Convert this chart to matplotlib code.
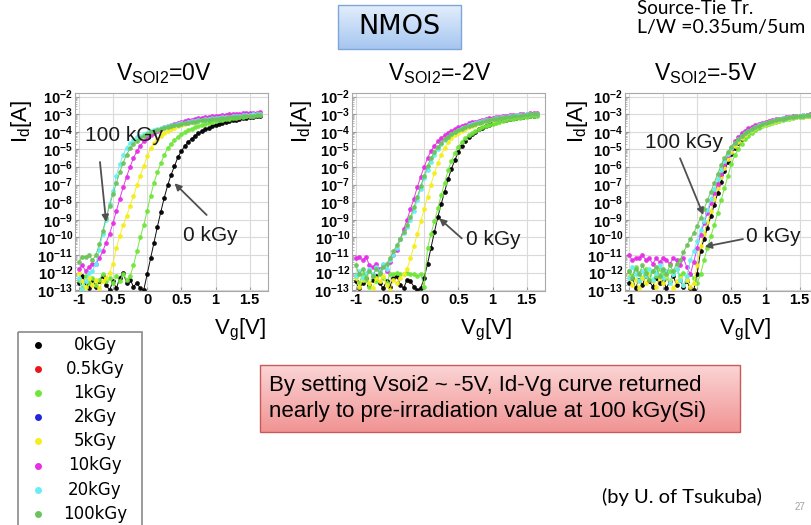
import numpy as np
import matplotlib
matplotlib.use('Agg')
import matplotlib.pyplot as plt
from matplotlib import font_manager as fm
from matplotlib.patches import Rectangle
from matplotlib.ticker import LogLocator, NullFormatter
import matplotlib.colors as mcolors

names = {f.name for f in fm.fontManager.ttflist}
NARROW = 'Liberation Sans Narrow' if 'Liberation Sans Narrow' in names else 'Liberation Sans'

plt.rcParams['axes.unicode_minus'] = False
plt.rcParams['mathtext.fontset'] = 'custom'
plt.rcParams['mathtext.rm'] = NARROW
plt.rcParams['mathtext.bf'] = NARROW + ':bold'
plt.rcParams['mathtext.it'] = NARROW + ':italic'
plt.rcParams['font.family'] = [NARROW, 'DejaVu Sans']

# ---------------- data ----------------
vg = np.round(np.arange(-1.0, 1.651, 0.05), 2)   # gate voltage [V]

dose_labels = ['0kGy', '0.5kGy', '1kGy', '2kGy', '5kGy', '10kGy', '20kGy', '100kGy']
dose_colors = ['#000000', '#e8151b', '#6fe63a', '#2424dc', '#f4ee1c', '#e52ee6', '#66eef2', '#6cc35a']

panel_titles = [r'V$_{\rm SOI2}$=0V', r'V$_{\rm SOI2}$=-2V', r'V$_{\rm SOI2}$=-5V']

# log10(Id [A]) for each dose, V_SOI2 = 0 V
p1_0kGy = [-12.6,-12.2,-12.6,-12.9,-12.4,-12.8,-12.5,-12.2,-12.7,-13.0,
           -12.5,-12.9,-12.3,-12.0,-12.6,-12.4,-12.8,-12.6,-12.9,-13.0,
           -12.1,-11.2,-10.3,-9.4,-8.55,-7.75,-7.05,-6.45,-5.95,-5.45,
           -5.1,-4.82,-4.58,-4.4,-4.24,-4.1,-3.98,-3.87,-3.78,-3.7,
           -3.62,-3.56,-3.5,-3.44,-3.39,-3.35,-3.31,-3.27,-3.24,-3.21,
           -3.18,-3.15,-3.13,-3.1]
p1_1kGy = [-12.4,-12.9,-12.2,-12.6,-12.3,-12.7,-12.4,-12.1,-12.5,-12.3,
           -12.6,-12.2,-12.5,-12.1,-12.4,-12.2,-11.6,-10.8,-10.0,-9.3,
           -8.5,-7.65,-6.9,-6.3,-5.8,-5.3,-4.95,-4.68,-4.48,-4.3,
           -4.15,-4.02,-3.91,-3.82,-3.74,-3.67,-3.6,-3.54,-3.49,-3.44,
           -3.4,-3.36,-3.32,-3.29,-3.26,-3.23,-3.2,-3.18,-3.15,-3.13,
           -3.11,-3.09,-3.07,-3.05]
p1_5kGy = [-12.0,-12.5,-12.8,-12.3,-12.7,-12.4,-12.9,-12.5,-12.3,-12.0,
           -11.5,-10.6,-9.9,-9.3,-8.8,-8.2,-7.65,-7.05,-6.5,-5.95,
           -5.4,-4.95,-4.62,-4.4,-4.22,-4.08,-3.96,-3.86,-3.77,-3.69,
           -3.62,-3.56,-3.5,-3.45,-3.4,-3.36,-3.32,-3.28,-3.25,-3.22,
           -3.19,-3.16,-3.14,-3.12,-3.1,-3.08,-3.06,-3.04,-3.03,-3.01,
           -3.0,-2.99,-2.97,-2.96]
p1_10kGy = [-11.8,-11.6,-11.9,-11.7,-11.5,-11.5,-11.2,-10.8,-10.3,-9.8,
            -9.2,-8.5,-7.8,-7.15,-6.55,-6.0,-5.5,-5.1,-4.8,-4.55,
            -4.36,-4.2,-4.07,-3.95,-3.85,-3.76,-3.68,-3.61,-3.55,-3.49,
            -3.44,-3.39,-3.35,-3.31,-3.27,-3.24,-3.2,-3.17,-3.15,-3.12,
            -3.1,-3.08,-3.06,-3.04,-3.02,-3.0,-2.99,-2.97,-2.96,-2.94,
            -2.93,-2.92,-2.91,-2.9]
p1_20kGy = [-12.3,-13.0,-12.5,-12.0,-11.9,-11.5,-10.7,-9.8,-9.0,-8.1,
            -7.35,-6.5,-5.85,-5.3,-4.9,-4.62,-4.45,-4.32,-4.22,-4.13,
            -4.05,-3.98,-3.91,-3.85,-3.79,-3.74,-3.69,-3.64,-3.6,-3.56,
            -3.52,-3.48,-3.44,-3.41,-3.38,-3.35,-3.32,-3.29,-3.27,-3.24,
            -3.22,-3.2,-3.18,-3.16,-3.14,-3.12,-3.1,-3.08,-3.07,-3.05,
            -3.04,-3.02,-3.01,-3.0]
p1_100kGy = [-11.4,-11.1,-11.1,-11.0,-11.3,-11.0,-10.4,-9.65,-8.9,-8.2,
             -7.55,-6.9,-6.3,-5.75,-5.3,-4.95,-4.7,-4.5,-4.35,-4.23,
             -4.13,-4.04,-3.96,-3.89,-3.83,-3.77,-3.72,-3.67,-3.63,-3.59,
             -3.55,-3.51,-3.48,-3.45,-3.42,-3.39,-3.36,-3.34,-3.31,-3.29,
             -3.27,-3.25,-3.23,-3.21,-3.19,-3.17,-3.15,-3.14,-3.12,-3.11,
             -3.09,-3.08,-3.06,-3.05]

# V_SOI2 = -2 V
p2_0kGy = [-12.5,-12.9,-12.6,-12.3,-12.7,-12.4,-12.2,-12.6,-12.9,-12.5,
           -12.8,-12.3,-12.2,-12.7,-12.9,-12.4,-12.5,-12.8,-13.0,-12.9,
           -12.3,-11.5,-10.6,-9.7,-8.85,-8.1,-7.4,-6.7,-6.1,-5.6,
           -5.15,-4.8,-4.5,-4.3,-4.13,-3.99,-3.87,-3.77,-3.68,-3.6,
           -3.53,-3.47,-3.41,-3.36,-3.32,-3.28,-3.24,-3.21,-3.18,-3.15,
           -3.13,-3.1,-3.08,-3.06]
p2_1kGy = [-12.2,-12.6,-12.1,-12.4,-12.8,-12.2,-12.5,-12.1,-12.3,-12.6,
           -12.1,-12.1,-12.0,-12.1,-12.1,-12.0,-12.1,-12.1,-12.2,-12.1,
           -12.8,-10.6,-9.8,-9.1,-8.35,-7.6,-6.9,-6.2,-5.65,-5.2,
           -4.85,-4.57,-4.36,-4.2,-4.06,-3.94,-3.84,-3.75,-3.67,-3.6,
           -3.54,-3.48,-3.43,-3.38,-3.34,-3.3,-3.27,-3.24,-3.21,-3.18,
           -3.16,-3.13,-3.11,-3.09]
p2_5kGy = [-12.3,-12.8,-12.4,-12.2,-12.6,-12.9,-12.3,-12.5,-12.2,-12.7,
           -13.0,-12.4,-12.6,-12.3,-12.1,-11.8,-11.2,-10.5,-9.8,-9.1,
           -8.4,-7.7,-7.0,-6.35,-5.8,-5.3,-4.9,-4.6,-4.38,-4.2,
           -4.06,-3.94,-3.83,-3.74,-3.66,-3.59,-3.52,-3.46,-3.41,-3.36,
           -3.32,-3.28,-3.24,-3.21,-3.18,-3.15,-3.12,-3.1,-3.08,-3.06,
           -3.04,-3.02,-3.01,-3.0]
p2_10kGy = [-11.2,-11.1,-11.3,-11.1,-11.6,-11.7,-11.5,-11.8,-11.6,-11.9,
            -11.4,-11.0,-10.7,-10.1,-9.55,-9.0,-8.4,-7.8,-7.15,-6.55,
            -6.0,-5.5,-5.1,-4.8,-4.55,-4.36,-4.2,-4.06,-3.94,-3.84,
            -3.75,-3.67,-3.6,-3.53,-3.47,-3.42,-3.37,-3.32,-3.28,-3.24,
            -3.21,-3.18,-3.15,-3.12,-3.1,-3.07,-3.05,-3.03,-3.01,-2.99,
            -2.98,-2.96,-2.95,-2.94]
p2_20kGy = [-12.2,-11.9,-12.3,-12.0,-11.8,-12.1,-11.7,-11.9,-11.5,-11.8,
            -11.3,-11.0,-10.6,-10.1,-9.75,-9.4,-9.0,-8.5,-7.9,-7.25,
            -6.65,-6.15,-5.7,-5.3,-4.97,-4.7,-4.48,-4.3,-4.15,-4.02,
            -3.91,-3.81,-3.72,-3.64,-3.57,-3.51,-3.45,-3.4,-3.35,-3.31,
            -3.27,-3.23,-3.2,-3.17,-3.14,-3.11,-3.09,-3.07,-3.05,-3.03,
            -3.01,-3.0,-2.99,-2.98]
p2_100kGy = [-11.6,-12.1,-11.8,-12.3,-11.9,-12.2,-11.8,-12.0,-11.7,-11.5,
             -11.2,-10.8,-10.45,-10.1,-9.7,-9.3,-8.85,-8.3,-7.7,-7.1,
             -6.5,-5.95,-5.5,-5.15,-4.87,-4.63,-4.44,-4.28,-4.14,-4.02,
             -3.92,-3.83,-3.75,-3.67,-3.6,-3.54,-3.48,-3.43,-3.38,-3.34,
             -3.3,-3.26,-3.23,-3.2,-3.17,-3.14,-3.12,-3.1,-3.08,-3.06,
             -3.04,-3.02,-3.01,-3.0]

# V_SOI2 = -5 V
p3_0kGy = [-12.6,-12.3,-12.9,-12.4,-12.7,-12.2,-12.5,-12.8,-12.3,-12.6,
           -12.4,-12.9,-12.5,-12.2,-12.7,-12.4,-12.8,-12.5,-12.9,-13.0,
           -12.1,-10.75,-10.1,-9.45,-8.8,-8.15,-7.5,-6.85,-6.25,-5.7,
           -5.25,-4.9,-4.62,-4.4,-4.22,-4.06,-3.93,-3.82,-3.72,-3.63,
           -3.55,-3.48,-3.42,-3.37,-3.32,-3.28,-3.24,-3.2,-3.17,-3.14,
           -3.12,-3.1,-3.08,-3.06]
p3_1kGy = [-11.9,-12.2,-11.7,-12.0,-12.3,-11.8,-12.1,-11.9,-12.2,-11.8,
           -12.0,-12.3,-11.9,-12.1,-11.8,-12.2,-12.0,-12.4,-12.1,-12.3,
           -12.6,-12.1,-11.3,-10.6,-9.95,-9.3,-8.6,-7.9,-7.2,-6.5,
           -5.85,-5.35,-4.97,-4.67,-4.43,-4.23,-4.06,-3.92,-3.8,-3.7,
           -3.62,-3.55,-3.49,-3.43,-3.38,-3.33,-3.29,-3.25,-3.22,-3.19,
           -3.16,-3.14,-3.12,-3.1]
p3_5kGy = [-12.2,-12.7,-12.4,-12.9,-12.3,-12.6,-12.1,-12.5,-12.8,-12.3,
           -12.6,-12.2,-12.4,-12.9,-12.5,-12.3,-12.7,-12.4,-12.8,-12.6,
           -11.6,-10.5,-9.8,-9.15,-8.5,-7.85,-7.2,-6.6,-6.05,-5.55,
           -5.15,-4.82,-4.56,-4.35,-4.18,-4.03,-3.9,-3.79,-3.7,-3.62,
           -3.54,-3.48,-3.42,-3.37,-3.32,-3.28,-3.24,-3.21,-3.18,-3.15,
           -3.13,-3.11,-3.09,-3.07]
p3_10kGy = [-11.0,-11.3,-11.2,-11.2,-11.0,-11.3,-11.2,-11.5,-11.2,-11.4,
            -11.2,-11.3,-11.5,-11.2,-11.3,-11.6,-11.2,-11.7,-12.1,-11.4,
            -10.6,-9.85,-9.2,-8.6,-8.05,-7.5,-6.95,-6.4,-5.85,-5.35,
            -4.9,-4.55,-4.3,-4.1,-3.94,-3.81,-3.71,-3.62,-3.55,-3.49,
            -3.43,-3.38,-3.33,-3.29,-3.25,-3.21,-3.18,-3.15,-3.12,-3.1,
            -3.08,-3.06,-3.04,-3.02]
p3_20kGy = [-12.3,-11.7,-12.1,-12.5,-11.9,-12.2,-11.8,-12.4,-12.0,-11.6,
            -12.3,-11.9,-12.6,-12.1,-11.8,-12.4,-12.7,-12.2,-11.3,-10.8,
            -10.2,-9.6,-9.05,-8.45,-7.85,-7.25,-6.7,-6.15,-5.65,-5.25,
            -4.93,-4.66,-4.44,-4.25,-4.09,-3.95,-3.83,-3.73,-3.64,-3.56,
            -3.49,-3.43,-3.37,-3.32,-3.28,-3.24,-3.2,-3.17,-3.14,-3.11,
            -3.09,-3.07,-3.05,-3.03]
p3_100kGy = [-11.9,-12.3,-11.8,-12.1,-11.6,-12.0,-12.4,-11.9,-11.7,-12.2,
             -11.8,-12.1,-11.6,-11.9,-11.5,-11.3,-10.85,-10.45,-10.1,-9.75,
             -9.35,-8.9,-8.4,-7.9,-7.4,-6.9,-6.4,-5.9,-5.5,-5.15,
             -4.87,-4.62,-4.42,-4.24,-4.09,-3.96,-3.85,-3.75,-3.66,-3.58,
             -3.51,-3.45,-3.39,-3.34,-3.3,-3.26,-3.22,-3.19,-3.16,-3.13,
             -3.11,-3.09,-3.07,-3.05]

panels = [
    {'0kGy': p1_0kGy, '1kGy': p1_1kGy, '5kGy': p1_5kGy, '10kGy': p1_10kGy, '20kGy': p1_20kGy, '100kGy': p1_100kGy},
    {'0kGy': p2_0kGy, '1kGy': p2_1kGy, '5kGy': p2_5kGy, '10kGy': p2_10kGy, '20kGy': p2_20kGy, '100kGy': p2_100kGy},
    {'0kGy': p3_0kGy, '1kGy': p3_1kGy, '5kGy': p3_5kGy, '10kGy': p3_10kGy, '20kGy': p3_20kGy, '100kGy': p3_100kGy},
]

# annotations: (text, text_pos, arrow_tail, arrow_head) in (Vg, log10 Id)
annotations = [
    [('100 kGy', (-0.34, -4.19), (-0.69, -5.72), (-0.60, -9.13)),
     ('0 kGy', (0.93, -9.87), (0.87, -8.73), (0.40, -6.93))],
    [('0 kGy', (1.01, -10.1), (0.55, -10.06), (0.22, -8.92))],
    [('100 kGy', (-0.19, -4.61), (-0.25, -5.51), (0.09, -8.73)),
     ('0 kGy', (1.11, -9.97), (0.67, -10.1), (0.11, -10.53))],
]

xticks = [-1, -0.5, 0, 0.5, 1, 1.5]
xticklabels = ['-1', '-0.5', '0', '0.5', '1', '1.5']
ydecades = list(range(2, 14))

# ---------------- figure ----------------
W, H = 811, 525
fig = plt.figure(figsize=(W / 100, H / 100), dpi=100)
fig.patch.set_facecolor('white')

ov = fig.add_axes([0, 0, 1, 1], zorder=0)
ov.set_xlim(0, W)
ov.set_ylim(H, 0)
ov.axis('off')


def grad_box(x0, y0, x1, y1, ctop, cbot, edge):
    c1 = np.array(mcolors.to_rgb(ctop))
    c2 = np.array(mcolors.to_rgb(cbot))
    t = np.linspace(0, 1, 64)[:, None, None]
    img = c1 * (1 - t) + c2 * t
    ov.imshow(img, extent=(x0, x1, y1, y0), aspect='auto', origin='upper',
              interpolation='bilinear', zorder=1)
    ov.add_patch(Rectangle((x0, y0), x1 - x0, y1 - y0, fill=False, ec=edge, lw=1.0, zorder=2))


# NMOS box
grad_box(338, 5, 461, 49, '#e3eefc', '#a6c6f0', '#7fa6d8')
ov.text(399.5, 27, 'NMOS', ha='center', va='center', fontsize=19.5, family='DejaVu Sans', zorder=3)

# top-right text
ov.text(637, 0.5, 'Source-Tie Tr.', ha='left', va='top', fontsize=13.5, family='Lato')
ov.text(637, 28, 'L/W =0.35um/5um', ha='left', va='center', fontsize=14, family='Lato')

# red message box
grad_box(260, 365, 740, 432, '#fbd4d4', '#f19494', '#c95a5a')
ov.text(269, 386, 'By setting Vsoi2 ~ -5V, Id-Vg curve returned', ha='left', va='center',
        fontsize=16, family='Liberation Sans', zorder=3)
ov.text(269, 411, 'nearly to pre-irradiation value at 100 kGy(Si)', ha='left', va='center',
        fontsize=16, family='Liberation Sans', zorder=3)

ov.text(682, 497, '(by U. of Tsukuba)', ha='center', va='center', fontsize=14.5, family='Lato')
ov.text(800, 507, '27', ha='center', va='center', fontsize=7, color='#a0a0a0', family='Liberation Sans')

# legend box
ov.add_patch(Rectangle((18, 332), 124, 210, fill=False, ec='#8a8a8a', lw=1.2, zorder=2))
for i, (lab, col) in enumerate(zip(dose_labels, dose_colors)):
    yy = 345 + 24.1 * i
    ov.plot([38], [yy], 'o', color=col, ms=5, mec='none', zorder=3)
    ov.text(95, yy, lab, ha='center', va='center', fontsize=12, family='DejaVu Sans', zorder=3)

# panels
lefts = [75, 352, 625]
top_px, bot_px, wid_px = 93, 291, 192.5
title_x = [164, 440, 706]
ylab_x = [22, 301, 578]
xlab_x = [240, 486, 745]

for k in range(3):
    ax = fig.add_axes([lefts[k] / W, 1 - bot_px / H, wid_px / W, (bot_px - top_px) / H], zorder=2)
    for lab, col in zip(dose_labels, dose_colors):
        if lab not in panels[k]:
            continue
        ax.plot(vg, 10.0 ** np.array(panels[k][lab]), '-o', color=col, lw=0.7, ms=3.4,
                mec='none', alpha=0.95)
    ax.set_yscale('log')
    ax.set_xlim(-1.055, 1.76)
    ax.set_ylim(10 ** -13.05, 10 ** -1.8)
    ax.set_xticks(xticks)
    ax.set_xticklabels(xticklabels, fontweight='bold', fontsize=10.5)
    ax.set_yticks([10.0 ** -d for d in ydecades])
    ax.set_yticklabels([r'$\mathbf{10^{-%d}}$' % d for d in ydecades], fontsize=10.5)
    ax.yaxis.set_minor_locator(LogLocator(base=10, subs=np.arange(2, 10), numticks=30))
    ax.yaxis.set_minor_formatter(NullFormatter())
    ax.tick_params(axis='both', which='major', direction='in', length=3, color='#999999', pad=1.5)
    ax.tick_params(axis='y', which='minor', direction='in', length=1.5, color='#aaaaaa')
    ax.grid(True, which='major', color='#dadada', lw=0.8)
    ax.set_axisbelow(True)
    for s in ax.spines.values():
        s.set_color('#a8a8a8')
        s.set_linewidth(0.8)
    for (txt, tp, tail, head) in annotations[k]:
        ax.text(tp[0], 10 ** tp[1], txt, ha='center', va='center', fontsize=15,
                family='Liberation Sans', color='#1a1a1a', clip_on=False, zorder=5)
        ax.annotate('', xy=(head[0], 10 ** head[1]), xytext=(tail[0], 10 ** tail[1]),
                    arrowprops=dict(arrowstyle='-|>', color='#505050', lw=1.3,
                                    mutation_scale=10, shrinkA=0, shrinkB=0),
                    annotation_clip=False, zorder=5)
    ov.text(title_x[k], 74, panel_titles[k], ha='center', va='center', fontsize=16.5)
    ov.text(ylab_x[k], 121, r'I$_{\rm d}$[A]', ha='center', va='center', fontsize=16, rotation=90)
    ov.text(xlab_x[k], 330, r'V$_{\rm g}$[V]', ha='center', va='center', fontsize=16)

fig.savefig('out.png', dpi=100)
